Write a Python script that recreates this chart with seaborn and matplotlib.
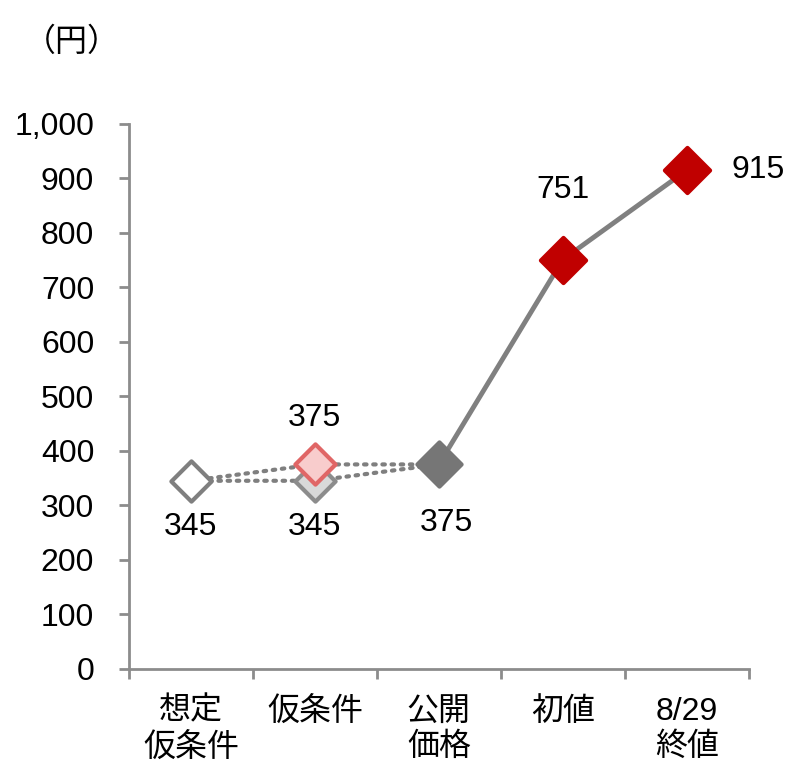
import seaborn as sns
import pandas as pd
import matplotlib.pyplot as plt

sns.set_theme(style='white')
plt.rcParams['font.family'] = ['Liberation Sans', 'Noto Sans CJK JP']
plt.rcParams['text.color'] = 'black'
plt.rcParams['xtick.color'] = 'black'
plt.rcParams['ytick.color'] = 'black'

categories = ['想定\n仮条件', '仮条件', '公開\n価格', '初値', '8/29\n終値']
# lower dotted path: assumed -> provisional (low) -> offer price
low_path = [345, 345, 375]
# upper dotted path: assumed -> provisional (high) -> offer price
high_path = [345, 375, 375]
# solid path: offer price -> first price -> close
solid_path = [375, 751, 915]

gray = '#7f7f7f'
red = '#c00000'

fig, ax = plt.subplots(figsize=(8.06, 7.84), dpi=100)
fig.subplots_adjust(left=0.160, right=0.929, bottom=0.147, top=0.842)

low_df = pd.DataFrame({'x': [0, 1, 2], 'y': low_path})
high_df = pd.DataFrame({'x': [0, 1, 2], 'y': high_path})
solid_df = pd.DataFrame({'x': [2, 3, 4], 'y': solid_path})

dot = dict(color=gray, linewidth=3, linestyle=(0, (0.6, 1.6)), dash_capstyle='round')
sns.lineplot(data=low_df, x='x', y='y', ax=ax, **dot)
sns.lineplot(data=high_df, x='x', y='y', ax=ax, **dot)
sns.lineplot(data=solid_df, x='x', y='y', ax=ax, color='#808080', linewidth=3.5)

def diamond(x, y, face, edge, ms):
    sns.scatterplot(x=[x], y=[y], ax=ax, marker='D', s=ms ** 2,
                    color=face, edgecolor=edge, linewidth=3, zorder=5)

diamond(0, low_path[0], 'white', gray, 20.5)
diamond(1, low_path[1], '#d9d9d9', '#8c8c8c', 20.5)
diamond(1, high_path[1], '#f8cccc', '#e06666', 20.5)
diamond(2, solid_path[0], '#767676', '#767676', 22.5)
diamond(3, solid_path[1], red, red, 23)
diamond(4, solid_path[2], red, red, 23)

fs = 23
ax.text(0, 261, f'{low_path[0]}', ha='center', va='center', fontsize=fs)
ax.text(1, 261, f'{low_path[1]}', ha='center', va='center', fontsize=fs)
ax.text(1, 461, f'{high_path[1]}', ha='center', va='center', fontsize=fs)
ax.text(2.06, 268, f'{solid_path[0]}', ha='center', va='center', fontsize=fs)
ax.text(3, 879, f'{solid_path[1]}', ha='center', va='center', fontsize=fs)
ax.text(4.36, 915, f'{solid_path[2]}', ha='left', va='center', fontsize=fs)

ax.set_xlim(-0.5, 4.5)
ax.set_ylim(0, 1000)
ax.set_yticks(range(0, 1001, 100))
ax.set_yticklabels([f'{v:,}' for v in range(0, 1001, 100)], fontsize=fs)
ax.set_xticks([i - 0.5 for i in range(6)])
ax.set_xticklabels([])
ax.set_xticks(range(5), minor=True)
ax.set_xticklabels(categories, minor=True, fontsize=fs, linespacing=1.25, va='top')
ax.tick_params(axis='x', which='minor', length=0, pad=20)
ax.tick_params(axis='x', which='major', direction='out', length=7, width=2, color='#8c8c8c', bottom=True)
ax.tick_params(axis='y', direction='out', length=7, width=2, color='#8c8c8c', left=True, pad=18)
ax.set_xlabel('')
ax.set_ylabel('')

for side in ['top', 'right']:
    ax.spines[side].set_visible(False)
for side in ['left', 'bottom']:
    ax.spines[side].set_color('#8c8c8c')
    ax.spines[side].set_linewidth(2)

fig.text(0.03, 0.945, '（円）', fontsize=fs, ha='left', va='center')

plt.savefig('out.png', dpi=100)
